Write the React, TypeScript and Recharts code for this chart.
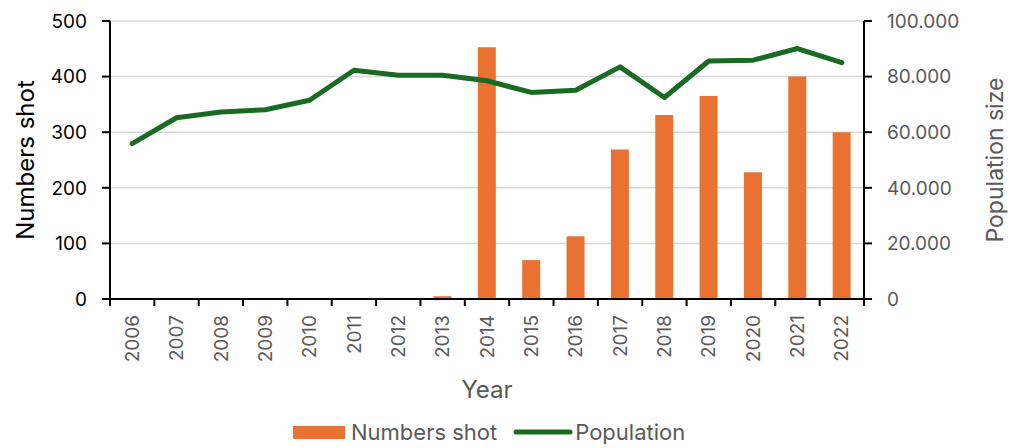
import React from 'react';
import { ComposedChart, Bar, Line, XAxis, YAxis, CartesianGrid, Legend } from 'recharts';

const years = ['2006', '2007', '2008', '2009', '2010', '2011', '2012', '2013', '2014', '2015', '2016', '2017', '2018', '2019', '2020', '2021', '2022'];
const numbersShot = [0, 0, 0, 0, 0, 0, 0, 5, 453, 70, 113, 269, 331, 365, 228, 400, 300];
const population = [55900, 65200, 67300, 68100, 71500, 82300, 80500, 80500, 78500, 74300, 75100, 83500, 72500, 85600, 85900, 90100, 85000];
const shotTicks = [0, 100, 200, 300, 400, 500];
const populationTicks = [0, 20000, 40000, 60000, 80000, 100000];

const data = years.map((year, i) => ({ year, shot: numbersShot[i], population: population[i] }));

const WIDTH = 1024;
const HEIGHT = 448;
const MARGIN = { top: 21, right: 25, bottom: 15, left: 25 };
const LEFT_AXIS_W = 85;
const RIGHT_AXIS_W = 135;
const PLOT_W = WIDTH - MARGIN.left - MARGIN.right - LEFT_AXIS_W - RIGHT_AXIS_W;
const HALF_BAND = PLOT_W / years.length / 2;

const BAR_COLOR = '#E97132';
const LINE_COLOR = '#196B24';
const GREY = '#595959';
const FONT = 'Inter, "Liberation Sans", Arial, sans-serif';

const formatPopulation = (v: number) => String(v).replace(/\B(?=(\d{3})+(?!\d))/g, '.');

// year labels run bottom-to-top; tick marks sit on the category boundaries
const YearTick = (props: any) => {
  const { x, y, payload, index, visibleTicksCount } = props;
  const axisY = y - 16;
  const last = index === visibleTicksCount - 1;
  return (
    <g>
      <line x1={x - HALF_BAND} x2={x - HALF_BAND} y1={axisY} y2={axisY + 7} stroke="#000" strokeWidth={2} />
      {last && <line x1={x + HALF_BAND} x2={x + HALF_BAND} y1={axisY} y2={axisY + 7} stroke="#000" strokeWidth={2} />}
      <text
        x={x}
        y={y}
        transform={`rotate(-90, ${x}, ${y})`}
        textAnchor="end"
        dy="0.35em"
        fill={GREY}
        fontSize={19}
        fontFamily={FONT}
      >
        {payload.value}
      </text>
    </g>
  );
};

const renderLegend = () => (
  <div
    style={{
      display: 'flex',
      alignItems: 'center',
      height: 24,
      fontFamily: FONT,
      fontSize: 22,
      color: GREY,
      whiteSpace: 'nowrap',
    }}
  >
    <span style={{ display: 'inline-block', width: 52, height: 13, background: BAR_COLOR, marginRight: 6 }} />
    <span>Numbers shot</span>
    <svg width={60} height={10} style={{ marginLeft: 16, marginRight: 2 }}>
      <line x1={3} y1={5} x2={57} y2={5} stroke={LINE_COLOR} strokeWidth={5} strokeLinecap="round" />
    </svg>
    <span>Population</span>
  </div>
);

export default function App() {
  return (
    <div style={{ width: WIDTH, height: HEIGHT, background: '#fff' }}>
      <style>{'body { margin: 0; }'}</style>
      <ComposedChart width={WIDTH} height={HEIGHT} data={data} margin={MARGIN}>
        <CartesianGrid yAxisId="left" vertical={false} stroke="#d9d9d9" strokeWidth={1.5} />
        <XAxis
          dataKey="year"
          height={110}
          axisLine={{ stroke: '#000', strokeWidth: 2 }}
          tickLine={false}
          tickSize={6}
          tickMargin={10}
          interval={0}
          tick={<YearTick />}
          label={{
            value: 'Year',
            position: 'insideBottom',
            offset: 11,
            fill: GREY,
            fontSize: 24,
            fontFamily: FONT,
          }}
        />
        <YAxis
          yAxisId="left"
          width={LEFT_AXIS_W}
          domain={[0, 500]}
          ticks={shotTicks}
          axisLine={{ stroke: '#000', strokeWidth: 2 }}
          tickLine={{ stroke: '#000', strokeWidth: 2 }}
          tickSize={8}
          tickMargin={15}
          tick={{ fill: '#000', fontSize: 19, fontFamily: FONT }}
          label={{
            value: 'Numbers shot',
            angle: -90,
            position: 'insideLeft',
            offset: 0,
            fill: '#000',
            fontSize: 24,
            fontFamily: FONT,
            style: { textAnchor: 'middle' },
          }}
        />
        <YAxis
          yAxisId="right"
          orientation="right"
          width={RIGHT_AXIS_W}
          domain={[0, 100000]}
          ticks={populationTicks}
          tickFormatter={formatPopulation}
          axisLine={{ stroke: '#000', strokeWidth: 2 }}
          tickLine={{ stroke: '#000', strokeWidth: 2 }}
          tickSize={8}
          tickMargin={15}
          tick={{ fill: GREY, fontSize: 19, fontFamily: FONT }}
          label={{
            value: 'Population size',
            angle: -90,
            position: 'insideRight',
            offset: 4,
            fill: GREY,
            fontSize: 23,
            fontFamily: FONT,
            style: { textAnchor: 'middle' },
          }}
        />
        <Legend
          verticalAlign="bottom"
          content={renderLegend}
          wrapperStyle={{ left: 293, top: 420, bottom: 'auto', width: 'auto' }}
        />
        <Bar yAxisId="left" dataKey="shot" name="Numbers shot" fill={BAR_COLOR} barSize={18} isAnimationActive={false} />
        <Line
          yAxisId="right"
          dataKey="population"
          name="Population"
          stroke={LINE_COLOR}
          strokeWidth={5}
          strokeLinecap="round"
          strokeLinejoin="round"
          dot={false}
          activeDot={false}
          isAnimationActive={false}
        />
      </ComposedChart>
    </div>
  );
}
